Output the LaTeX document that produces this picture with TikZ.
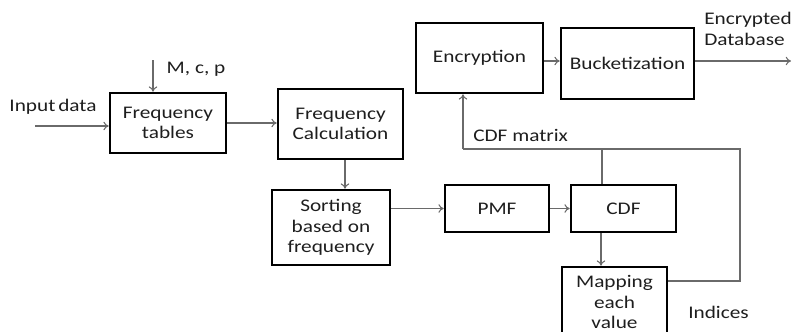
\documentclass[tikz,border=0pt]{standalone}
\usepackage{fontspec}
\setmainfont[FakeStretch=1.2]{Carlito}
\usetikzlibrary{arrows.meta}
\definecolor{wire}{HTML}{6A6A6A}
\definecolor{ink}{HTML}{1E1E1E}
\tikzset{
  px/.style={x=0.75pt,y=-0.75pt},
  block/.style 2 args={draw=black,line width=1.9pt,inner sep=0pt,align=center,
    minimum width=#1*0.75pt,minimum height=#2*0.75pt,text=ink},
  flow/.style={draw=wire,line width=0.8pt,-{To[length=4pt,width=6.5pt]}},
  wireline/.style={draw=wire,line width=0.8pt},
  lbl/.style={text=ink,inner sep=0pt,align=left}
}
\begin{document}
\begin{tikzpicture}[px,font=\fontsize{13.3}{15.4}\selectfont]
\useasboundingbox (0,0) rectangle (793,332);
\clip (0,0) rectangle (793,332);

% processing blocks
\node[block={116}{60}]  (FT)   at (168,123)   {Frequency\\tables};
\node[block={125}{70}]  (FC)   at (340.5,124) {Frequency\\Calculation};
\node[block={127}{70}]  (Enc)  at (479.5,58)  {Encryption};
\node[block={133}{71}]  (Buck) at (627.5,63.5){Bucketization};
\node[block={118}{75}]  (Sort) at (331,227.5) {Sorting\\based on\\frequency};
\node[block={104}{47}]  (PMF)  at (497,208.5) {PMF};
\node[block={105}{47}]  (CDF)  at (623.5,208.5){CDF};
\node[block={105}{70}]  (Map)  at (614.5,302) {Mapping\\each\\value};

% labels
\node[lbl] (inlbl)  at (53,107) {Input\kern-1.5pt\ data};
\node[lbl] (mcplbl) at (196,69) {M, c, p};
\node[lbl,anchor=west] (outlbl) at (704,29) {Encrypted\\Database};
\node[lbl,anchor=west] (cdflbl) at (473,135) {CDF matrix};
\node[lbl,anchor=west] (idxlbl) at (688,312) {Indices};

% free ends and corners of the connectors
\coordinate (src) at (35,126);
\coordinate (par) at (153,60);
\coordinate (sink) at (791,61);
\coordinate (fbR) at (740,149);
\coordinate (fbL) at (463,149);
\coordinate (fbT) at (602,149);

% data flow
\draw[flow] (src) -- (src -| FT.west);
\draw[flow] (par) -- (par |- FT.north);
\draw[flow] (FT.east) -- (FT.east -| FC.west);
\draw[flow] ([xshift=4.5*0.75pt]FC.south) -- ([xshift=4.5*0.75pt]FC.south |- Sort.north);
\draw[flow] (Sort.east |- PMF.west) -- (PMF.west);
\draw[flow] (PMF.east) -- (CDF.west);
\draw[flow] ([xshift=-22.5*0.75pt]CDF.south) -- ([xshift=-22.5*0.75pt]CDF.south |- Map.north);
\draw[flow] ([yshift=-3*0.75pt]Enc.east) -- ([yshift=-3*0.75pt]Enc.east -| Buck.west);
\draw[flow] (Buck.east |- sink) -- (sink);

% feedback of indices and CDF matrix to the encryption stage
\draw[wireline] (Map.east |- 0,281) -- (fbR |- 0,281) -- (fbR) -- (fbL);
\draw[flow] (fbL) -- (fbL |- Enc.south);
\draw[wireline] (fbT) -- (fbT |- CDF.north);
\end{tikzpicture}
\end{document}
